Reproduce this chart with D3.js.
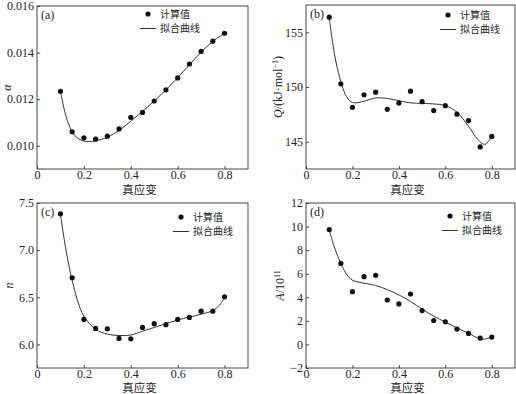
<!DOCTYPE html>
<html lang="zh">
<head>
<meta charset="UTF-8">
<title>真应变 参数</title>
<style>
  * { margin: 0; padding: 0; }
  body { background: #fff; width: 516px; height: 394px; overflow: hidden; }
  svg text { font-family: "Liberation Serif", "Noto Sans CJK SC", serif; fill: #222; }
  .cjk { font-family: "Noto Sans CJK SC", sans-serif; }
</style>
</head>
<body>
<div id="chart"></div>
<script src="https://d3js.org/d3.v7.min.js"></script>
<script>
// strain values of the calculated points
var strain = [0.10, 0.15, 0.20, 0.25, 0.30, 0.35, 0.40, 0.45, 0.50, 0.55, 0.60, 0.65, 0.70, 0.75, 0.80];

// (a) alpha
var alphaPts = [0.01234, 0.01060, 0.01034, 0.01028, 0.01041, 0.01072, 0.01122, 0.01143, 0.01192, 0.01240, 0.01291, 0.01351, 0.01405, 0.01449, 0.01483];
var alphaFitX = [0.10, 0.12, 0.14, 0.16, 0.18, 0.20, 0.22, 0.25, 0.30, 0.35, 0.40, 0.45, 0.50, 0.55, 0.60, 0.65, 0.70, 0.75, 0.80];
var alphaFit = [0.01234, 0.01140, 0.01080, 0.01045, 0.01028, 0.01020, 0.01018, 0.01021, 0.01036, 0.01066, 0.01105, 0.01147, 0.01192, 0.01240, 0.01292, 0.01347, 0.01402, 0.01448, 0.01483];

// (b) Q
var qPts = [156.39, 150.29, 148.14, 149.29, 149.53, 147.96, 148.53, 149.62, 148.66, 147.84, 148.29, 147.51, 146.93, 144.52, 145.48];
var qFitX = [0.10, 0.115, 0.13, 0.15, 0.17, 0.19, 0.21, 0.25, 0.30, 0.35, 0.40, 0.45, 0.50, 0.55, 0.60, 0.65, 0.70, 0.74, 0.77, 0.80];
var qFit = [156.4, 154.0, 152.2, 150.5, 149.3, 148.7, 148.55, 148.7, 149.0, 148.95, 148.75, 148.55, 148.5, 148.45, 148.3, 147.7, 146.4, 145.2, 144.75, 145.5];

// (c) n
var nPts = [7.385, 6.707, 6.265, 6.17, 6.166, 6.064, 6.06, 6.18, 6.22, 6.21, 6.265, 6.286, 6.353, 6.353, 6.505];
var nFitX = [0.10, 0.125, 0.15, 0.175, 0.20, 0.25, 0.30, 0.35, 0.40, 0.45, 0.50, 0.55, 0.60, 0.65, 0.70, 0.75, 0.78, 0.80];
var nFit = [7.38, 6.98, 6.68, 6.45, 6.30, 6.16, 6.11, 6.095, 6.10, 6.14, 6.18, 6.22, 6.26, 6.29, 6.32, 6.36, 6.42, 6.50];

// (d) A / 10^11
var aPts = [9.75, 6.87, 4.48, 5.75, 5.86, 3.77, 3.44, 4.28, 2.87, 2.03, 1.92, 1.30, 0.93, 0.54, 0.62];
var aFitX = [0.10, 0.125, 0.15, 0.175, 0.20, 0.25, 0.30, 0.35, 0.40, 0.45, 0.50, 0.55, 0.60, 0.65, 0.70, 0.74, 0.77, 0.80];
var aFit = [9.7, 8.1, 6.85, 5.95, 5.45, 5.2, 5.0, 4.65, 4.2, 3.65, 3.0, 2.4, 1.9, 1.4, 0.95, 0.55, 0.45, 0.65];

var xTicks = [0, 0.2, 0.4, 0.6, 0.8];
var xLabel = "真应变";
var legendDot = "计算值";
var legendLine = "拟合曲线";

var svg = d3.select("#chart").append("svg")
  .attr("width", 516)
  .attr("height", 394);

svg.append("rect").attr("width", 516).attr("height", 394).attr("fill", "#fff");

function drawPanel(p) {
  var g = svg.append("g");

  var x = d3.scaleLinear().domain([0, 0.9]).range([p.left, p.right]);
  var y = d3.scaleLinear().domain(p.yDomain).range([p.bottom, p.top]);

  // x axis (ticks pointing in)
  var xAxis = g.append("g")
    .attr("transform", "translate(0," + p.bottom + ")")
    .call(d3.axisBottom(x).tickValues(xTicks).tickSizeInner(-3).tickSizeOuter(0).tickPadding(1)
      .tickFormat(function(d) { return d === 0 ? "0" : d3.format(".1f")(d); }));

  var yAxis = g.append("g")
    .attr("transform", "translate(" + p.left + ",0)")
    .call(d3.axisLeft(y).tickValues(p.yTicks).tickSizeInner(-3).tickSizeOuter(0).tickPadding(3)
      .tickFormat(p.yFormat));

  [xAxis, yAxis].forEach(function(a) {
    a.select(".domain").remove();
    a.selectAll("line").attr("stroke", "#444");
    a.selectAll("text").style("font-size", "12px").attr("fill", "#222")
      .style("font-family", "'Liberation Serif', serif");
  });

  // frame
  g.append("rect")
    .attr("x", p.left).attr("y", p.top)
    .attr("width", p.right - p.left).attr("height", p.bottom - p.top)
    .attr("fill", "none").attr("stroke", "#444").attr("stroke-width", 1);

  // fitted curve
  var line = d3.line()
    .x(function(d) { return x(d[0]); })
    .y(function(d) { return y(d[1]); })
    .curve(d3.curveCatmullRom.alpha(0.5));

  g.append("path")
    .datum(d3.zip(p.fitX, p.fit))
    .attr("d", line)
    .attr("fill", "none")
    .attr("stroke", "#333")
    .attr("stroke-width", 1);

  // calculated points
  g.selectAll("circle.pt")
    .data(d3.zip(strain, p.pts))
    .enter()
    .append("circle")
      .attr("class", "pt")
      .attr("cx", function(d) { return x(d[0]); })
      .attr("cy", function(d) { return y(d[1]); })
      .attr("r", 2.6)
      .attr("fill", "#111");

  // panel tag
  g.append("text")
    .attr("x", p.left + 4).attr("y", p.top + 13)
    .style("font-size", "12px")
    .text(p.tag);

  // legend
  var lx = p.legend[0], ly = p.legend[1];
  g.append("circle").attr("cx", lx + 8).attr("cy", ly).attr("r", 2.6).attr("fill", "#111");
  g.append("line")
    .attr("x1", lx).attr("x2", lx + 16)
    .attr("y1", ly + 14.5).attr("y2", ly + 14.5)
    .attr("stroke", "#333").attr("stroke-width", 1);
  g.append("text").attr("class", "cjk")
    .attr("x", lx + 20).attr("y", ly)
    .attr("dy", "0.36em")
    .style("font-size", "10px").text(legendDot);
  g.append("text").attr("class", "cjk")
    .attr("x", lx + 20).attr("y", ly + 14.5)
    .attr("dy", "0.36em")
    .style("font-size", "10px").text(legendLine);

  // x label
  g.append("text").attr("class", "cjk")
    .attr("x", (p.left + p.right) / 2 - 3)
    .attr("y", p.bottom + p.xLabelDy)
    .attr("text-anchor", "middle")
    .style("font-size", "11.5px")
    .text(xLabel);

  // y label
  var yl = g.append("text")
    .attr("transform", "translate(" + p.yLabelX + "," + ((p.top + p.bottom) / 2) + ")rotate(-90)")
    .attr("text-anchor", "middle")
    .style("font-size", "12px");
  p.yLabel(yl);
}

drawPanel({
  tag: "(a)", left: 37, right: 248, top: 6, bottom: 169,
  yDomain: [0.009, 0.016], yTicks: [0.010, 0.012, 0.014, 0.016], yFormat: d3.format(".3f"),
  pts: alphaPts, fitX: alphaFitX, fit: alphaFit,
  legend: [140, 14], yLabelX: 11, xLabelDy: 25,
  yLabel: function(t) { t.append("tspan").style("font-style", "italic").text("α"); }
});

drawPanel({
  tag: "(b)", left: 306, right: 515, top: 5, bottom: 169,
  yDomain: [142.5, 157.5], yTicks: [145, 150, 155], yFormat: d3.format("d"),
  pts: qPts, fitX: qFitX, fit: qFit,
  legend: [440, 15], yLabelX: 282, xLabelDy: 25,
  yLabel: function(t) {
    t.append("tspan").style("font-style", "italic").text("Q");
    t.append("tspan").text("/(kJ·mol");
    t.append("tspan").attr("dy", -4).style("font-size", "8px").text("−1");
    t.append("tspan").attr("dy", 4).text(")");
  }
});

drawPanel({
  tag: "(c)", left: 37, right: 248, top: 203, bottom: 368,
  yDomain: [5.75, 7.5], yTicks: [6.0, 6.5, 7.0, 7.5], yFormat: d3.format(".1f"),
  pts: nPts, fitX: nFitX, fit: nFit,
  legend: [173, 217], yLabelX: 13, xLabelDy: 24,
  yLabel: function(t) { t.append("tspan").style("font-style", "italic").text("n"); }
});

drawPanel({
  tag: "(d)", left: 306, right: 515, top: 203, bottom: 368,
  yDomain: [-2, 12], yTicks: [-2, 0, 2, 4, 6, 8, 10, 12], yFormat: d3.format("d"),
  pts: aPts, fitX: aFitX, fit: aFit,
  legend: [442, 216], yLabelX: 284, xLabelDy: 24,
  yLabel: function(t) {
    t.append("tspan").style("font-style", "italic").text("A");
    t.append("tspan").text("/10");
    t.append("tspan").attr("dy", -4).style("font-size", "8px").text("11");
  }
});
</script>
</body>
</html>
